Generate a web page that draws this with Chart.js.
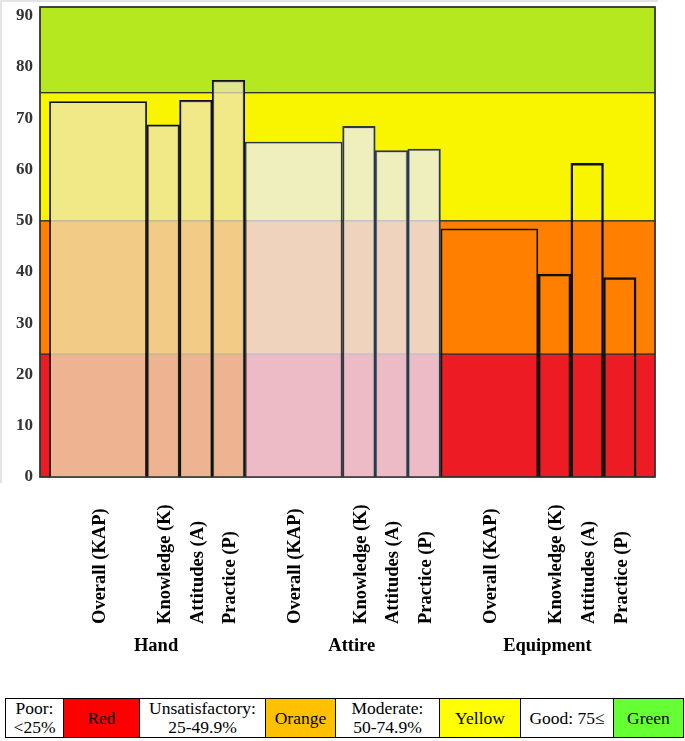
<!DOCTYPE html>
<html>
<head>
<meta charset="utf-8">
<script src="https://cdn.jsdelivr.net/npm/chart.js@4.4.1/dist/chart.umd.min.js"></script>
<style>
  body { margin: 0; background: #fff; }
  #wrap { position: relative; width: 685px; height: 698px; }
  table.key {
    border-collapse: collapse;
    margin-left: 5px;
    font-family: "Liberation Serif", "Times New Roman", serif;
    font-size: 17.5px;
    line-height: 19px;
    text-align: center;
  }
  table.key td { border: 1.5px solid #000; height: 38px; padding: 0; }
</style>
</head>
<body>
<div id="wrap"><canvas id="kap"></canvas></div>
<table class="key">
  <tr>
    <td style="width:57px">Poor:<br>&lt;25%</td>
    <td style="width:75px;background:#ff0000">Red</td>
    <td style="width:125px">Unsatisfactory:<br>25-49.9%</td>
    <td style="width:69px;background:#ffc000">Orange</td>
    <td style="width:103px">Moderate:<br>50-74.9%</td>
    <td style="width:80px;background:#ffff00">Yellow</td>
    <td style="width:92px">Good: 75≤</td>
    <td style="width:69px;background:#66ff33">Green</td>
  </tr>
</table>
<script>
// datos
const groups = ["Hand", "Attire", "Equipment"];
const measures = ["Overall (KAP)", "Knowledge (K)", "Attitudes (A)", "Practice (P)"];
const handValues = [73.3, 68.7, 73.5, 77.4];
const attireValues = [65.4, 68.4, 63.7, 64.0];
const equipmentValues = [48.5, 39.6, 61.2, 38.9];
const yTicks = [0, 10, 20, 30, 40, 50, 60, 70, 80, 90];
// limites de las bandas de color (inicio de cada banda)
const bandStarts = [0, 24, 50, 75];
const bandColors = ["#ed1c24", "#ff8000", "#f9f400", "#b6e81f"];

const values = [handValues, attireValues, equipmentValues];
// la barra "Overall" ocupa 3 huecos, las demas 1
const spans = [3, 1, 1, 1];
const slotsPerGroup = spans.reduce((a, b) => a + b, 0);

const centers = [];
groups.forEach((g, gi) => {
    let pos = gi * slotsPerGroup;
    const row = [];
    spans.forEach((s) => {
        row.push(pos + s / 2);
        pos += s;
    });
    centers.push(row);
});
const slotCenters = [];
for (let i = 0; i < groups.length * slotsPerGroup; i++) slotCenters.push(i + 0.5);

const overallData = groups.map((g, gi) => ({ x: centers[gi][0], y: values[gi][0] }));
const partData = [];
groups.forEach((g, gi) => {
    for (let j = 1; j < measures.length; j++) partData.push({ x: centers[gi][j], y: values[gi][j] });
});

const groupFill = ["rgba(238,230,180,0.75)", "rgba(236,236,246,0.77)", "rgba(0,0,0,0)"];
const groupBorder = ["#111111", "#2c3a48", "#111111"];

const bandsPlugin = {
    id: "bands",
    beforeDatasetsDraw(chart) {
        const { ctx, chartArea: a, scales: { y } } = chart;
        ctx.save();
        bandStarts.forEach((v, i) => {
            const top = i + 1 < bandStarts.length ? y.getPixelForValue(bandStarts[i + 1]) : a.top;
            const bottom = y.getPixelForValue(v);
            ctx.fillStyle = bandColors[i];
            ctx.fillRect(a.left, top, a.right - a.left, bottom - top);
            ctx.strokeStyle = "#333";
            ctx.lineWidth = 1.2;
            ctx.strokeRect(a.left, top, a.right - a.left, bottom - top);
        });
        ctx.restore();
    },
    afterDraw(chart) {
        const { ctx, chartArea: a, scales: { x } } = chart;
        ctx.save();
        // marco
        ctx.strokeStyle = "#333";
        ctx.lineWidth = 1.5;
        ctx.strokeRect(a.left, a.top, a.right - a.left, a.bottom - a.top);
        ctx.strokeStyle = "#e4e4e4";
        ctx.lineWidth = 2;
        ctx.beginPath();
        ctx.moveTo(1, a.bottom + 6);
        ctx.lineTo(1, 1);
        ctx.lineTo(a.right + 3, 1);
        ctx.stroke();
        // etiquetas giradas
        ctx.fillStyle = "#000";
        ctx.font = 'bold 18.5px "Liberation Serif", "Times New Roman", serif';
        groups.forEach((g, gi) => {
            measures.forEach((m, j) => {
                ctx.save();
                ctx.translate(x.getPixelForValue(centers[gi][j]) + 2, a.bottom + 147);
                ctx.rotate(-Math.PI / 2);
                ctx.textAlign = "left";
                ctx.textBaseline = "middle";
                ctx.fillText(m, 0, 0);
                ctx.restore();
            });
            ctx.textAlign = "center";
            ctx.textBaseline = "middle";
            ctx.fillText(g, x.getPixelForValue(gi * slotsPerGroup + slotsPerGroup / 2 + 0.28), a.bottom + 169);
        });
        ctx.restore();
    }
};

new Chart(document.getElementById("kap").getContext("2d"), {
    type: "bar",
    data: {
        datasets: [
            {
                label: "Overall (KAP)",
                data: overallData,
                grouped: false,
                barPercentage: spans[0],
                categoryPercentage: 1,
                backgroundColor: (c) => groupFill[c.dataIndex],
                borderColor: (c) => groupBorder[c.dataIndex],
                borderWidth: 1.8
            },
            {
                label: "K / A / P",
                data: partData,
                grouped: false,
                barPercentage: 1,
                categoryPercentage: 1,
                backgroundColor: (c) => groupFill[Math.floor(c.dataIndex / 3)],
                borderColor: (c) => groupBorder[Math.floor(c.dataIndex / 3)],
                borderWidth: 1.8
            }
        ]
    },
    options: {
        responsive: true,
        maintainAspectRatio: false,
        animation: false,
        layout: { padding: { top: 7, right: 30, bottom: 221, left: 0 } },
        plugins: {
            legend: { display: false },
            tooltip: { enabled: false },
            title: { display: false }
        },
        scales: {
            x: {
                type: "linear",
                display: false,
                offset: false,
                min: -0.28,
                max: 18.58,
                afterBuildTicks: (s) => { s.ticks = slotCenters.map((v) => ({ value: v })); }
            },
            y: {
                min: 0,
                max: 91.7,
                afterBuildTicks: (s) => { s.ticks = yTicks.map((v) => ({ value: v })); },
                afterFit: (s) => { s.width = 40; s.paddingTop = 0; s.paddingBottom = 0; },
                grid: { display: false, drawTicks: false },
                border: { display: false },
                ticks: {
                    padding: 7,
                    color: "#333",
                    font: { family: '"Liberation Serif", "Times New Roman", serif', size: 17, weight: "bold" }
                }
            }
        }
    },
    plugins: [bandsPlugin]
});
</script>
</body>
</html>
